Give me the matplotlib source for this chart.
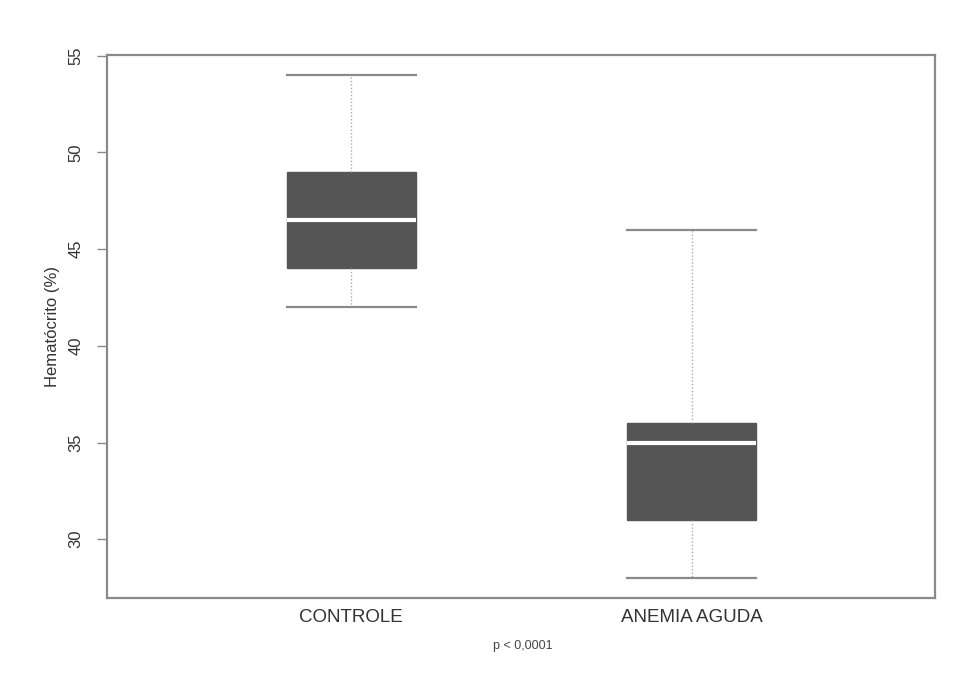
import matplotlib
matplotlib.use('Agg')
import matplotlib.pyplot as plt

plt.rcParams['font.family'] = ['Liberation Sans', 'DejaVu Sans']

# Hematocrit summary per group (whisker low, Q1, median, Q3, whisker high)
groups = ['CONTROLE', 'ANEMIA AGUDA']
whislo = [42, 28]
q1 = [44, 31]
med = [46.5, 35]
q3 = [49, 36]
whishi = [54, 46]
yticks = [30, 35, 40, 45, 50, 55]

stats = []
for i, name in enumerate(groups):
    stats.append({'label': name, 'whislo': whislo[i], 'q1': q1[i], 'med': med[i],
                  'q3': q3[i], 'whishi': whishi[i], 'fliers': []})

fig = plt.figure(figsize=(9.78, 6.86), dpi=100)
ax = fig.add_axes([0.1094, 0.1283, 0.8466, 0.7915])

edge = '#8a8a8a'
ax.bxp(stats, positions=[1, 2], widths=0.38, patch_artist=True,
       boxprops=dict(facecolor='#555555', edgecolor='#555555', linewidth=1),
       medianprops=dict(color='white', linewidth=3),
       whiskerprops=dict(color='#aaaaaa', linestyle=(0, (1, 1.5)), linewidth=1),
       capprops=dict(color=edge, linewidth=1.6),
       capwidths=0.38, showfliers=False)

ax.set_xlim(0.282, 2.715)
ax.set_ylim(26.96, 55.04)
ax.set_yticks(yticks)
ax.set_yticklabels([str(t) for t in yticks], rotation=90, va='center')
ax.set_xticks([1, 2])
ax.set_xticklabels(groups)

for s in ax.spines.values():
    s.set_color(edge)
    s.set_linewidth(1.6)
ax.tick_params(axis='y', colors=edge, length=7, width=1, labelcolor='#333333',
               labelsize=12, pad=10)
ax.tick_params(axis='x', length=0, labelcolor='#333333', labelsize=13.5, pad=8)

ax.set_ylabel('Hematócrito (%)', fontsize=12, color='#333333', labelpad=6)
fig.text(0.535, 0.058, 'p < 0,0001', ha='center', va='center', fontsize=9,
         color='#444444')

fig.savefig('out.png', dpi=100, facecolor='white')
